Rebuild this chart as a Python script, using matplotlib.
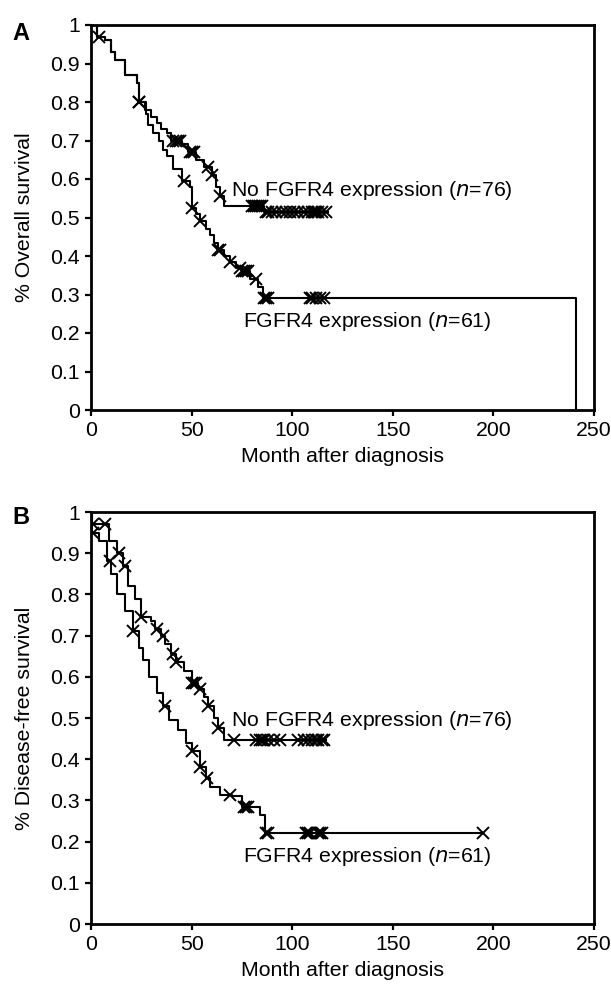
import numpy as np
import matplotlib
matplotlib.use("Agg")
import matplotlib.pyplot as plt

plt.rcParams['font.family'] = ['Liberation Sans', 'DejaVu Sans']

# ---------------- Panel A: overall survival ----------------
A_no_t = [0, 3, 7, 10, 12, 17, 23, 24, 27, 30, 33, 35, 38, 40, 45, 48, 52, 56, 60, 62, 64, 66, 86]
A_no_s = [1.0, 0.97, 0.96, 0.93, 0.91, 0.87, 0.85, 0.80, 0.78, 0.76, 0.745, 0.73, 0.72, 0.70, 0.69,
          0.67, 0.65, 0.63, 0.61, 0.58, 0.555, 0.53, 0.515]
A_no_end = 118
A_no_cens = [4, 24, 41, 42, 43, 44, 49, 50, 51, 58, 60, 64, 80, 81, 82, 83, 84, 85, 87, 88, 90, 92,
             95, 97, 99, 101, 103, 106, 108, 110, 111, 112, 113, 115, 117]

A_fg_t = [0, 3, 7, 10, 12, 17, 23, 24, 27.5, 28.5, 31, 34, 36, 38, 41, 45, 49, 50, 52, 54, 57, 59,
          61, 63, 66, 69, 72, 75, 79, 83, 85.5, 241]
A_fg_s = [1.0, 0.97, 0.96, 0.93, 0.91, 0.87, 0.85, 0.80, 0.77, 0.74, 0.72, 0.70, 0.675, 0.66, 0.625,
          0.595, 0.58, 0.525, 0.51, 0.49, 0.47, 0.455, 0.435, 0.415, 0.40, 0.385, 0.37, 0.36, 0.34,
          0.32, 0.29, 0.0]
A_fg_end = 241
A_fg_cens = [24, 46, 50, 54, 63, 64, 69, 74, 75, 76, 77, 78, 82, 86, 87, 88, 109, 110, 112, 114, 116]

# ---------------- Panel B: disease-free survival ----------------
B_no_t = [0, 0.5, 9, 13, 16, 18.5, 22, 25, 30, 32, 35, 37, 40, 42, 46, 50, 53, 56, 58, 61, 63, 66]
B_no_s = [1.0, 0.97, 0.93, 0.90, 0.87, 0.82, 0.79, 0.745, 0.735, 0.715, 0.70, 0.68, 0.655, 0.635,
          0.615, 0.585, 0.57, 0.55, 0.53, 0.50, 0.475, 0.447]
B_no_end = 117
B_no_cens = [1, 7, 14, 17, 25, 33, 36, 41, 42, 50, 51, 52, 54, 58, 63, 71, 82, 84, 85, 86, 88, 91,
             94, 103, 106, 108, 110, 112, 113, 115, 116]

B_fg_t = [0, 0.5, 4, 8, 10, 13, 17, 21, 24, 26, 29, 33, 36, 39, 43, 47, 50, 54, 57, 59, 64, 70,
          75, 84, 86.5]
B_fg_s = [1.0, 0.95, 0.93, 0.88, 0.85, 0.80, 0.76, 0.71, 0.67, 0.64, 0.60, 0.56, 0.53, 0.495, 0.47,
          0.44, 0.42, 0.38, 0.355, 0.333, 0.313, 0.31, 0.285, 0.265, 0.22]
B_fg_end = 195
B_fg_cens = [1, 9.5, 21, 37, 50, 54, 57.5, 69, 76, 77, 78, 87, 88, 107, 108, 109, 113, 114, 115, 195]

x_ticks = [0, 50, 100, 150, 200, 250]
y_ticks = [0, 0.1, 0.2, 0.3, 0.4, 0.5, 0.6, 0.7, 0.8, 0.9, 1]
y_tick_labels = ['0', '0.1', '0.2', '0.3', '0.4', '0.5', '0.6', '0.7', '0.8', '0.9', '1']
label_no = 'No FGFR4 expression ($\\it{n}$=76)'
label_fg = 'FGFR4 expression ($\\it{n}$=61)'

FS = 15.3
W, H = 611, 989
fig = plt.figure(figsize=(W / 100, H / 100), dpi=100)


def km(ax, t, s, end, cens):
    t = np.asarray(t, float)
    s = np.asarray(s, float)
    tt = np.append(t, end)
    ss = np.append(s, s[-1])
    ax.step(tt, ss, where='post', color='black', lw=1.5, zorder=3)
    c = np.asarray(cens, float)
    idx = np.searchsorted(t, c, side='right') - 1
    ax.plot(c, s[idx], linestyle='none', marker='x', ms=8.5, mew=1.4, color='black', zorder=4)


def style(ax, ylabel):
    ax.set_xlim(0, 250)
    ax.set_ylim(0, 1)
    ax.set_xticks(x_ticks)
    ax.set_xticklabels([str(v) for v in x_ticks], fontsize=FS)
    ax.set_yticks(y_ticks)
    ax.set_yticklabels(y_tick_labels, fontsize=FS)
    for sp in ax.spines.values():
        sp.set_linewidth(2.0)
        sp.set_color('black')
    ax.tick_params(direction='out', length=4, width=1.6, pad=4)
    ax.set_xlabel('Month after diagnosis', fontsize=FS, labelpad=5)
    ax.set_ylabel(ylabel, fontsize=FS, labelpad=12)


def axrect(left, top, right, bottom):
    return [left / W, 1 - bottom / H, (right - left) / W, (bottom - top) / H]


axA = fig.add_axes(axrect(91, 25, 594, 410))
km(axA, A_no_t, A_no_s, A_no_end, A_no_cens)
km(axA, A_fg_t, A_fg_s, A_fg_end, A_fg_cens)
style(axA, '% Overall survival')
axA.text(69.5, 0.571, label_no, fontsize=FS, va='center', ha='left')
axA.text(75.5, 0.229, label_fg, fontsize=FS, va='center', ha='left')
fig.text(12 / W, 1 - 33 / H, 'A', fontsize=17, fontweight='bold', va='center', ha='left')

axB = fig.add_axes(axrect(91, 512, 594, 924))
km(axB, B_no_t, B_no_s, B_no_end, B_no_cens)
km(axB, B_fg_t, B_fg_s, B_fg_end, B_fg_cens)
style(axB, '% Disease-free survival')
axB.text(69.5, 0.495, label_no, fontsize=FS, va='center', ha='left')
axB.text(75.5, 0.165, label_fg, fontsize=FS, va='center', ha='left')
fig.text(12 / W, 1 - 517 / H, 'B', fontsize=17, fontweight='bold', va='center', ha='left')

fig.savefig('out.png', dpi=100)
